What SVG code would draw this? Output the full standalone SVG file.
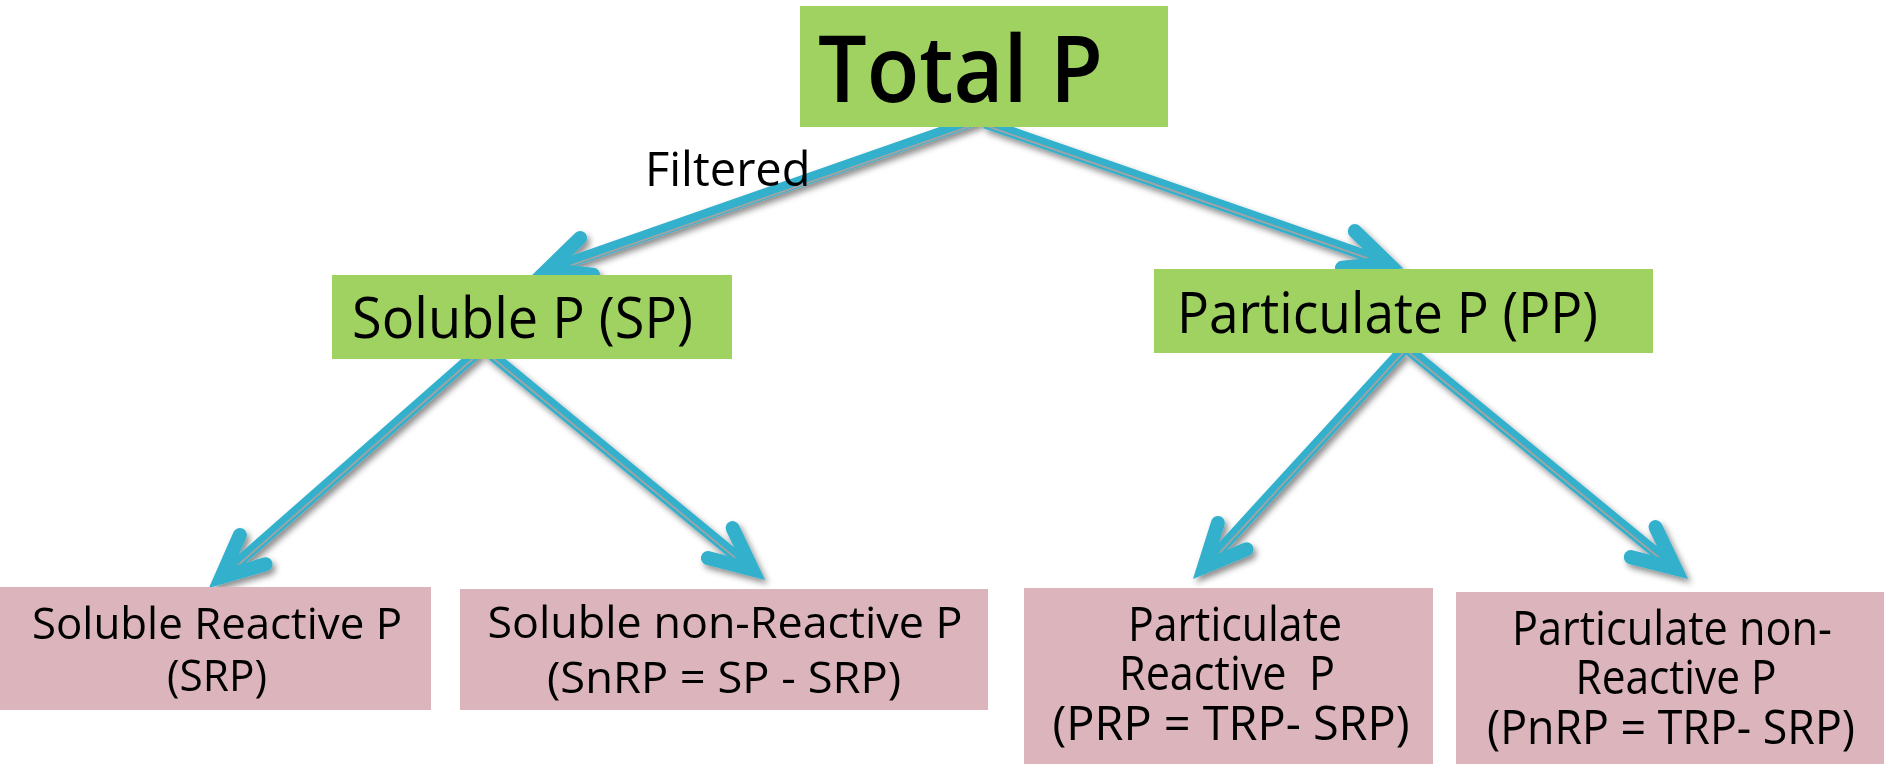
<svg xmlns="http://www.w3.org/2000/svg" width="1884" height="764" viewBox="0 0 1884 764">
  <defs>
    <style>
      .green { fill: #a0d262; }
      .pink { fill: #dbb5bb; }
      text { font-family: "Open Sans", "DejaVu Sans", sans-serif; fill: #000; }
      .head { font-weight: 600; }
      .leaf { font-size: 44px; font-weight: 500; text-anchor: middle; }
      .tall { font-size: 48px; }
      .shaft { fill: none; stroke: #33b0cc; stroke-width: 11; stroke-linecap: butt; }
      .inner { fill: none; stroke: #a3a3a3; stroke-width: 1.8; }
      .tip { fill: none; stroke: #33b0cc; stroke-width: 14; stroke-linecap: round; stroke-linejoin: miter; stroke-miterlimit: 10; }
    </style>
    <filter id="shadow" x="-10%" y="-10%" width="120%" height="120%">
      <feDropShadow dx="3" dy="4" stdDeviation="3" flood-color="#000" flood-opacity="0.45"/>
    </filter>
  </defs>

  <rect width="1884" height="764" fill="#fff"/>

  <!-- connectors: double-line shaft with an open chevron head -->
  <g id="connectors">
    <g id="c-total-sp" filter="url(#shadow)">
      <path class="shaft" d="M982,118 L547.2,270"/>
      <path class="inner" d="M982.7,120 L557,268.5" transform="translate(0.6,1.6)"/>
      <polyline class="tip" points="580.1,237.9 547.2,270 593,274.6"/>
    </g>
    <g id="c-total-pp" filter="url(#shadow)">
      <path class="shaft" d="M985,123 L1387.8,263.1"/>
      <path class="inner" d="M986,124 L1378,260" transform="translate(-0.6,1.6)"/>
      <polyline class="tip" points="1354.8,231.1 1387.8,263.1 1342,267.8"/>
    </g>
    <g id="c-sp-srp" filter="url(#shadow)">
      <path class="shaft" d="M480,350 L221.3,577.1"/>
      <path class="inner" d="M480,350 L229,570.5" transform="translate(1.3,1.5)"/>
      <polyline class="tip" points="239.8,535 221.3,577.1 265.5,564.2"/>
    </g>
    <g id="c-sp-snrp" filter="url(#shadow)">
      <path class="shaft" d="M486,350 L752.4,569.5"/>
      <path class="inner" d="M486,350 L744.7,563.1" transform="translate(-1.3,1.5)"/>
      <polyline class="tip" points="732.6,528 752.4,569.5 707.9,558"/>
    </g>
    <g id="c-pp-prp" filter="url(#shadow)">
      <path class="shaft" d="M1403,350 L1204.1,566.9"/>
      <path class="inner" d="M1403,350 L1210.9,559.5" transform="translate(1.5,1.4)"/>
      <polyline class="tip" points="1217.9,523 1204.1,566.9 1246.6,549.3"/>
    </g>
    <g id="c-pp-pnrp" filter="url(#shadow)">
      <path class="shaft" d="M1409,350 L1675.4,568.5"/>
      <path class="inner" d="M1409,350 L1667.7,562.2" transform="translate(-1.3,1.5)"/>
      <polyline class="tip" points="1655.5,527 1675.4,568.5 1630.8,557.1"/>
    </g>
    <text id="label-filtered" x="645" y="186" font-size="47">Filtered</text>
  </g>

  <!-- top level -->
  <g id="total-p">
    <rect class="green" x="800" y="6" width="368" height="121"/>
    <text class="head" x="818" y="102" font-size="92" textLength="285" lengthAdjust="spacingAndGlyphs">Total P</text>
  </g>

  <!-- second level -->
  <g id="soluble-p">
    <rect class="green" x="332" y="275" width="400" height="84"/>
    <text x="352" y="338" font-size="57" font-weight="500" textLength="341" lengthAdjust="spacingAndGlyphs">Soluble P (SP)</text>
  </g>
  <g id="particulate-p">
    <rect class="green" x="1154" y="269" width="499" height="84"/>
    <text x="1177" y="333" font-size="56" font-weight="500" textLength="421" lengthAdjust="spacingAndGlyphs">Particulate P (PP)</text>
  </g>

  <!-- third level -->
  <g id="srp">
    <rect class="pink" x="0" y="587" width="431" height="123"/>
    <text class="leaf" x="217" y="639" textLength="370" lengthAdjust="spacingAndGlyphs">Soluble Reactive P</text>
    <text class="leaf" x="217" y="691" textLength="100" lengthAdjust="spacingAndGlyphs">(SRP)</text>
  </g>
  <g id="snrp">
    <rect class="pink" x="460" y="589" width="528" height="121"/>
    <text class="leaf" x="725" y="638" textLength="475" lengthAdjust="spacingAndGlyphs">Soluble non-Reactive P</text>
    <text class="leaf" x="724" y="693" textLength="354" lengthAdjust="spacingAndGlyphs">(SnRP = SP - SRP)</text>
  </g>
  <g id="prp">
    <rect class="pink" x="1024" y="588" width="409" height="176"/>
    <text class="leaf tall" x="1235" y="641" textLength="214" lengthAdjust="spacingAndGlyphs">Particulate</text>
    <text class="leaf tall" x="1227" y="690" textLength="216" lengthAdjust="spacingAndGlyphs" xml:space="preserve" style="white-space:pre">Reactive  P</text>
    <text class="leaf tall" x="1231" y="740" textLength="357" lengthAdjust="spacingAndGlyphs">(PRP = TRP- SRP)</text>
  </g>
  <g id="pnrp">
    <rect class="pink" x="1456" y="592" width="428" height="172"/>
    <text class="leaf tall" x="1672" y="645" textLength="320" lengthAdjust="spacingAndGlyphs">Particulate non-</text>
    <text class="leaf tall" x="1676" y="694" textLength="201" lengthAdjust="spacingAndGlyphs">Reactive P</text>
    <text class="leaf tall" x="1671" y="744" textLength="368" lengthAdjust="spacingAndGlyphs">(PnRP = TRP- SRP)</text>
  </g>
</svg>
